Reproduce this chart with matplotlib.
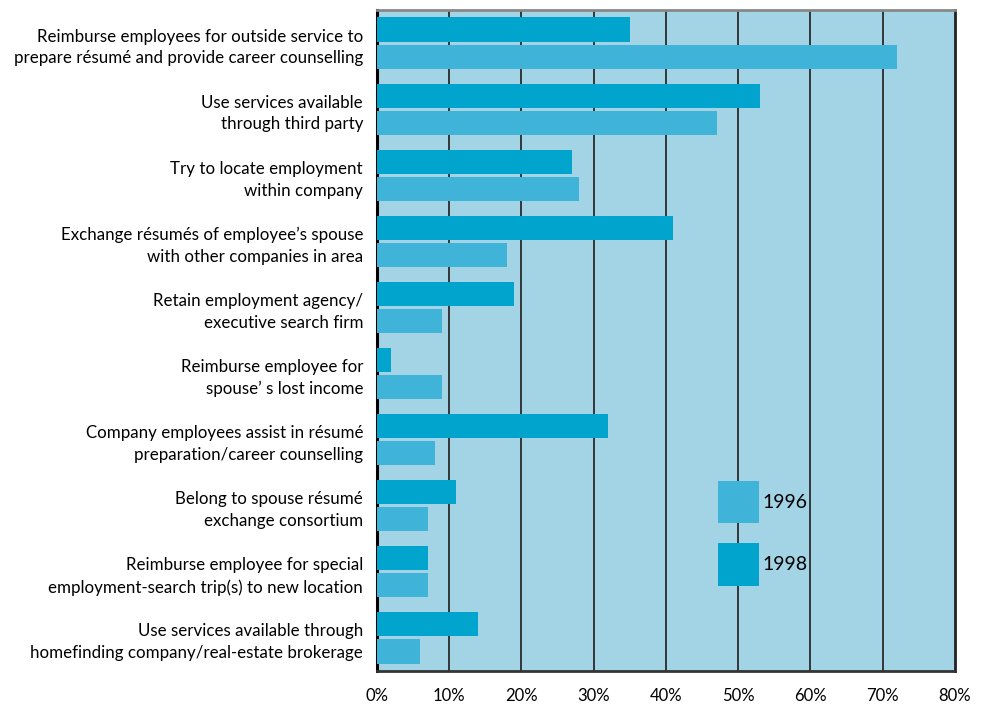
import numpy as np
import matplotlib
matplotlib.use("Agg")
import matplotlib.pyplot as plt
from matplotlib.patches import Patch

# categories, top to bottom
labels = [
    "Reimburse employees for outside service to\nprepare résumé and provide career counselling",
    "Use services available\nthrough third party",
    "Try to locate employment\nwithin company",
    "Exchange résumés of employee\u2019s spouse\nwith other companies in area",
    "Retain employment agency/\nexecutive search firm",
    "Reimburse employee for\nspouse\u2019 s lost income",
    "Company employees assist in résumé\npreparation/career counselling",
    "Belong to spouse résumé\nexchange consortium",
    "Reimburse employee for special\nemployment-search trip(s) to new location",
    "Use services available through\nhomefinding company/real-estate brokerage",
]
vals_1998 = [35, 53, 27, 41, 19, 2, 32, 11, 7, 14]
vals_1996 = [72, 47, 28, 18, 9, 9, 8, 7, 7, 6]
xticks = [0, 10, 20, 30, 40, 50, 60, 70, 80]

c98 = "#00a4cc"
c96 = "#40b4d8"
bg = "#a2d4e6"

plt.rcParams['font.family'] = ['Lato', 'DejaVu Sans']

fig = plt.figure(figsize=(9.87, 7.04), dpi=100)
ax = fig.add_axes([377/987, 1-671/704, (955-377)/987, (671-10)/704])
ax.set_facecolor(bg)

y = np.arange(len(labels))
off = 0.205
h = 0.364
ax.barh(y - off, vals_1998, height=h, color=c98, zorder=3, label="1998")
ax.barh(y + off, vals_1996, height=h, color=c96, zorder=3, label="1996")

ax.set_xlim(0, 80)
ax.set_ylim(len(labels) - 0.5, -0.5)
ax.set_xticks(xticks)
ax.set_xticklabels([f"{v}%" for v in xticks], fontsize=12)
ax.set_yticks(y)
ax.set_yticklabels(labels, fontsize=12.2, ha="right", linespacing=1.45)
ax.tick_params(axis="both", length=0)
ax.tick_params(axis="x", pad=12)
ax.tick_params(axis="y", pad=10)

# vertical grid lines sit under the bars
for v in xticks[1:-1]:
    ax.axvline(v, color="#2a2a2a", lw=1.3, zorder=1)

ax.spines["left"].set_linewidth(2.2)
ax.spines["left"].set_color("black")
ax.spines["bottom"].set_linewidth(2)
ax.spines["bottom"].set_color("#333333")
ax.spines["right"].set_linewidth(2)
ax.spines["right"].set_color("#222222")
ax.spines["top"].set_linewidth(2)
ax.spines["top"].set_color("#888888")

handles = [Patch(facecolor=c96, label="1996"), Patch(facecolor=c98, label="1998")]
leg = ax.legend(handles=handles, loc="upper left",
                bbox_to_anchor=(718/987, 1-481/704), bbox_transform=fig.transFigure,
                frameon=False, fontsize=14, handlelength=2.1, handleheight=2.95,
                labelspacing=1.05, handletextpad=0.2, borderpad=0, borderaxespad=0)

fig.savefig("out.png", dpi=100)
